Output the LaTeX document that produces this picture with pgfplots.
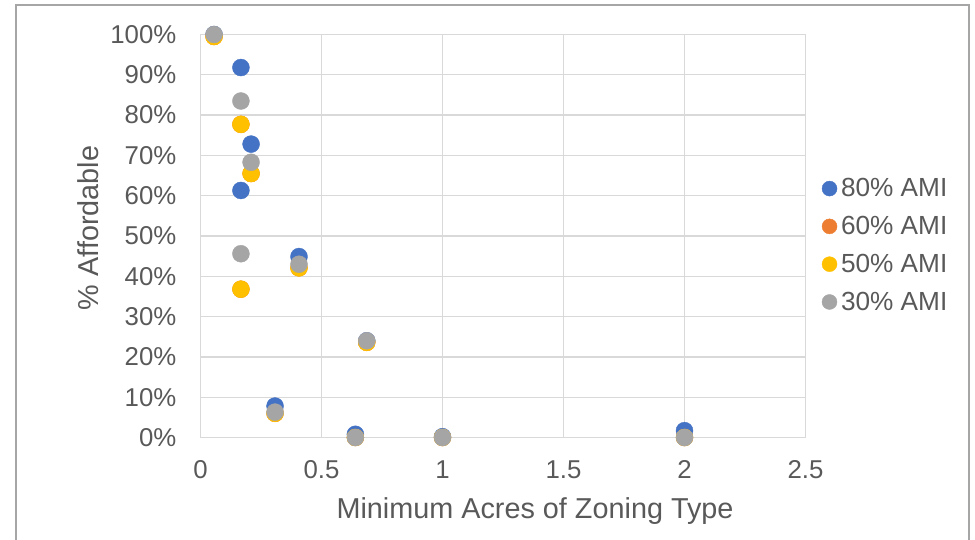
\documentclass[border=0pt]{standalone}
\usepackage{pgfplots}
\pgfplotsset{compat=1.18}
\usepackage{fontspec}
\setmainfont{Liberation Sans}
\definecolor{txt}{HTML}{595959}
\definecolor{grd}{HTML}{D9D9D9}
\definecolor{frm}{HTML}{A6A6A6}
\definecolor{cA}{HTML}{4472C4}
\definecolor{cB}{HTML}{ED7D31}
\definecolor{cC}{HTML}{FFC000}
\definecolor{cD}{HTML}{A5A5A5}
\begin{document}
\begin{tikzpicture}[x=1pt,y=1pt]
\useasboundingbox (0,0) rectangle (975,539);
\draw[color=frm, line width=1.5pt] (16,-2) -- (16,534) -- (969,534) -- (969,-2);
\begin{axis}[
  at={(200.5pt,101.5pt)}, anchor=south west,
  width=605pt, height=403pt, scale only axis,
  xmin=0, xmax=2.5, ymin=0, ymax=100,
  xtick={0,0.5,1,1.5,2,2.5},
  ytick={0,10,20,30,40,50,60,70,80,90,100},
  grid=major, grid style={grd, line width=1.3pt},
  axis line style={grd, line width=1.3pt},
  major tick length=0pt,
  /pgf/number format/assume math mode=true,
  tick label style={font=\fontsize{25.8}{30}\selectfont, text=txt, inner sep=0pt},
  yticklabel={\pgfmathprintnumber{\tick}\%},
  yticklabel style={xshift=-24pt},
  xticklabel style={yshift=-23pt},
  label style={font=\fontsize{28.8}{33}\selectfont, text=txt},
  xlabel={Minimum Acres of Zoning Type},
  ylabel={\% Affordable},
  xlabel style={at={(axis description cs:0.553,-0.183)}, anchor=center},
  ylabel style={at={(axis description cs:-0.186,0.52)}, anchor=center, rotate=0},
  legend style={at={(axis description cs:1.027,0.477)}, anchor=west, draw=none, fill=none,
    font=\fontsize{26.2}{30}\selectfont, text=txt, inner sep=0pt, row sep=14pt,
    /tikz/every odd column/.append style={column sep=2pt}},
  legend cell align=left,
  legend image code/.code={\draw[#1, mark size=7.5pt] plot coordinates {(7.5pt,0pt)};},
  clip=false,
]
\addplot[only marks, mark=*, mark size=8.5pt, color=cA, mark options={fill=cA}] coordinates {
 (0.056,100) (0.167,91.8) (0.209,72.8) (0.167,61.3) (0.407,44.9)
 (0.687,24.0) (0.308,7.8) (0.64,0.8) (1.0,0.2) (2.0,1.7)
};
\addlegendentry{80\% AMI}
\addplot[only marks, mark=*, mark size=8.5pt, color=cB, mark options={fill=cB}] coordinates {
 (0.056,99.5) (0.167,77.7) (0.209,65.5) (0.167,36.8) (0.407,42.1)
 (0.687,23.6) (0.308,6.0) (0.64,0) (1.0,0) (2.0,0)
};
\addlegendentry{60\% AMI}
\addplot[only marks, mark=*, mark size=8.5pt, color=cC, mark options={fill=cC}] coordinates {
 (0.056,99.5) (0.167,77.7) (0.209,65.5) (0.167,36.8) (0.407,42.1)
 (0.687,23.6) (0.308,6.0) (0.64,0) (1.0,0) (2.0,0)
};
\addlegendentry{50\% AMI}
\addplot[only marks, mark=*, mark size=8.5pt, color=cD, mark options={fill=cD}] coordinates {
 (0.056,100) (0.167,83.5) (0.209,68.3) (0.167,45.6) (0.407,43.0)
 (0.687,24.0) (0.308,6.3) (0.64,0) (1.0,0) (2.0,0)
};
\addlegendentry{30\% AMI}
\end{axis}
\end{tikzpicture}
\end{document}
